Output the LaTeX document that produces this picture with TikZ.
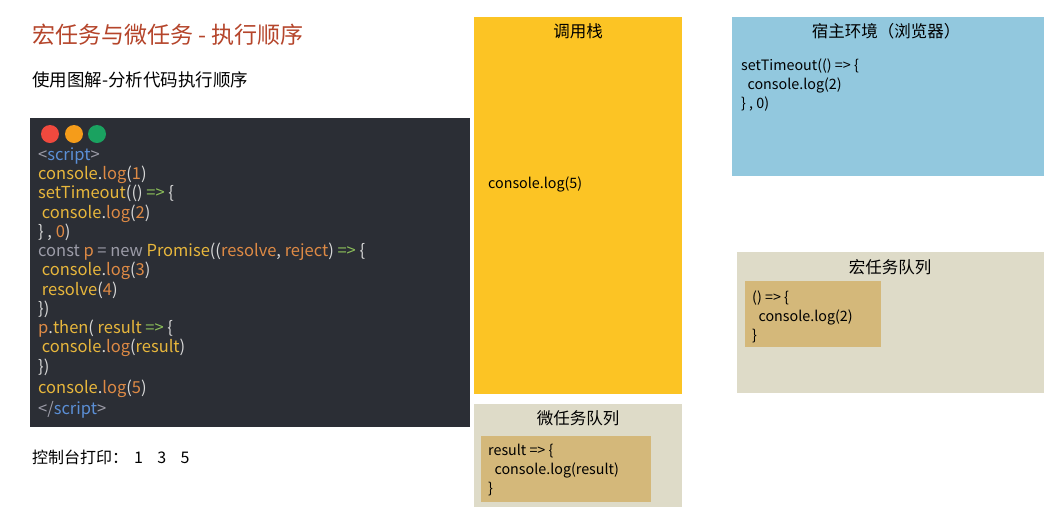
\documentclass[tikz,border=0pt]{standalone}
\usepackage{fontspec}
\setmainfont{Noto Sans CJK SC}
\begin{document}
\begin{tikzpicture}[x=1pt,y=-1pt,
  every node/.style={inner sep=0pt,anchor=base west},
  code/.style={font=\fontsize{16.5}{18}\selectfont,text=cW},
  ttl/.style={anchor=base,font=\fontsize{16.5}{18}\selectfont},
  txt/.style={font=\fontsize{14.3}{16}\selectfont}]
\definecolor{cBg}{HTML}{2B2E35}
\definecolor{cY}{HTML}{E8B73C}
\definecolor{cO}{HTML}{DE8A45}
\definecolor{cG}{HTML}{8CBF5A}
\definecolor{cB}{HTML}{5B8FD6}
\definecolor{cGr}{HTML}{9C9CA8}
\definecolor{cW}{HTML}{D8D8D8}
\definecolor{stackc}{HTML}{FCC424}
\definecolor{queuec}{HTML}{DEDBC8}
\definecolor{innerc}{HTML}{D4B87A}
\definecolor{hostc}{HTML}{92C8DE}
\definecolor{titlec}{HTML}{B5452B}
\useasboundingbox[fill=white] (0,0) rectangle (1044,507);
\node[font=\fontsize{23}{26}\selectfont,text=titlec] (title) at (32,43) {宏任务与微任务 - 执行顺序};
\node[font=\fontsize{17.5}{20}\selectfont] (sub) at (32,86) {使用图解-分析代码执行顺序};
% code block
\fill[cBg] (30,118) rectangle (470,427);
\fill[fill={rgb,255:red,240;green,73;blue,62}] (50,134) circle (9);
\fill[fill={rgb,255:red,245;green,156;blue,26}] (74,134) circle (9);
\fill[fill={rgb,255:red,26;green,162;blue,96}] (97,134) circle (9);
\node[code] (l1) at (38,160) {\textcolor{cGr}{<}\textcolor{cB}{script}\textcolor{cGr}{>}};
\node[code] (l2) at (38,179) {\textcolor{cY}{console}.\textcolor{cO}{log}(\textcolor{cO}{1})};
\node[code] (l3) at (38,198) {\textcolor{cY}{setTimeout}(() \textcolor{cG}{=>} \{};
\node[code] (l4) at (38,218) {\ \textcolor{cY}{console}.\textcolor{cO}{log}(\textcolor{cO}{2})};
\node[code] (l5) at (38,237) {\} , \textcolor{cO}{0})};
\node[code] (l6) at (38,256) {\textcolor{cGr}{const} \textcolor{cO}{p} \textcolor{cGr}{= new} \textcolor{cY}{Promise}((\textcolor{cO}{resolve}, \textcolor{cO}{reject}) \textcolor{cG}{=>} \{};
\node[code] (l7) at (38,275) {\ \textcolor{cY}{console}.\textcolor{cO}{log}(\textcolor{cO}{3})};
\node[code] (l8) at (38,295) {\ \textcolor{cY}{resolve}(\textcolor{cO}{4})};
\node[code] (l9) at (38,314) {\})};
\node[code] (l10) at (38,333) {\textcolor{cO}{p}.\textcolor{cY}{then}( \textcolor{cY}{result} \textcolor{cG}{=>} \{};
\node[code] (l11) at (38,352) {\ \textcolor{cY}{console}.\textcolor{cO}{log}(\textcolor{cY}{result})};
\node[code] (l12) at (38,372) {\})};
\node[code] (l13) at (38,393) {\textcolor{cY}{console}.\textcolor{cO}{log}(\textcolor{cO}{5})};
\node[code] (l14) at (38,414) {\textcolor{cGr}{</}\textcolor{cB}{script}\textcolor{cGr}{>}};
\node[font=\fontsize{16}{18}\selectfont] (out) at (32,463) {控制台打印：\hspace{6pt}1\ \ \ \ 3\ \ \ \ 5};
% call stack
\fill[stackc] (474,17) rectangle (682,394);
\node[ttl] (stt) at (578,37) {调用栈};
\node[txt] (s5) at (488,188) {console.log(5)};
% micro queue
\fill[queuec] (474,404) rectangle (682,507);
\node[ttl] (mit) at (578,424) {微任务队列};
\fill[innerc] (481,436) rectangle (651,502);
\node[txt] (m1) at (488,455) {result => \{};
\node[txt] (m2) at (488,474) {\ \ console.log(result)};
\node[txt] (m3) at (488,493) {\}};
% host
\fill[hostc] (732,17) rectangle (1044,176);
\node[ttl] (ht) at (886,37) {宿主环境（浏览器）};
\node[txt] (h1) at (741,70) {setTimeout(() => \{};
\node[txt] (h2) at (741,89) {\ \ console.log(2)};
\node[txt] (h3) at (741,108) {\} , 0)};
% macro queue
\fill[queuec] (737,252) rectangle (1044,393);
\node[ttl] (mat) at (890,273) {宏任务队列};
\fill[innerc] (745,281) rectangle (881,347);
\node[txt] (a1) at (752,302) {() => \{};
\node[txt] (a2) at (752,321) {\ \ console.log(2)};
\node[txt] (a3) at (752,340) {\}};
\end{tikzpicture}
\end{document}
